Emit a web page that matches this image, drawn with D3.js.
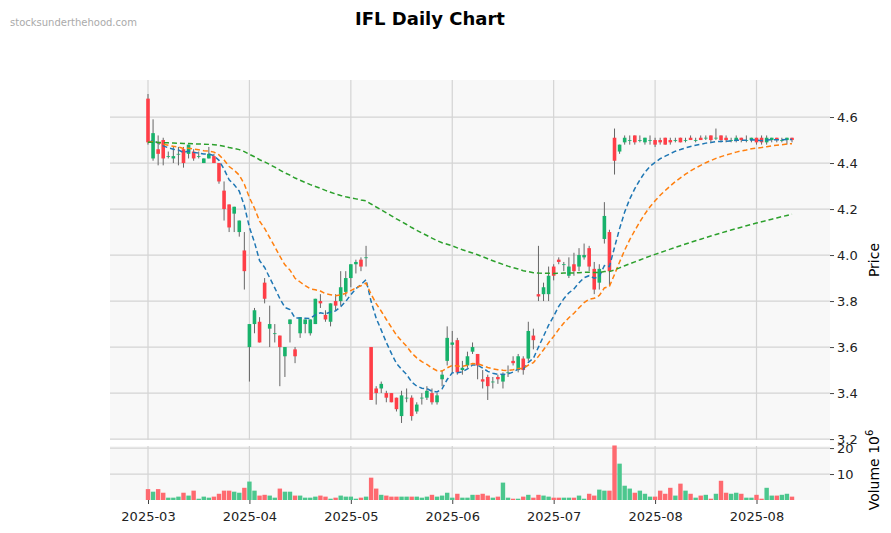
<!DOCTYPE html><html><head><meta charset="utf-8"><script src="https://cdn.jsdelivr.net/npm/d3@7"></script>
<style>body{margin:0;background:#fff;font-family:"DejaVu Sans",sans-serif}</style></head><body><svg id="c" width="891" height="533"></svg>
<script>
const opens=[4.68,4.42,4.46,4.50,4.43,4.42,4.44,4.46,4.44,4.45,4.43,4.40,4.42,4.43,4.40,4.28,4.22,4.18,4.10,4.02,3.60,3.70,3.71,3.88,3.68,3.66,3.65,3.56,3.70,3.59,3.66,3.70,3.66,3.70,3.80,3.74,3.71,3.80,3.80,3.84,3.90,3.96,3.98,3.99,3.60,3.42,3.42,3.40,3.40,3.38,3.30,3.38,3.38,3.32,3.38,3.38,3.40,3.36,3.46,3.54,3.61,3.63,3.50,3.52,3.58,3.57,3.46,3.47,3.45,3.47,3.45,3.49,3.54,3.50,3.55,3.55,3.65,3.83,3.83,3.83,3.95,3.98,3.96,3.91,3.96,3.95,3.99,4.03,3.94,3.88,4.07,4.10,4.51,4.45,4.49,4.50,4.52,4.50,4.49,4.50,4.50,4.50,4.51,4.50,4.50,4.51,4.50,4.51,4.50,4.51,4.51,4.52,4.51,4.52,4.51,4.50,4.50,4.51,4.50,4.50,4.51,4.51,4.49,4.50,4.51,4.50,4.50,4.51];
const highs=[4.70,4.59,4.52,4.51,4.45,4.47,4.47,4.47,4.48,4.46,4.45,4.42,4.47,4.44,4.40,4.32,4.22,4.21,4.15,4.10,3.70,3.77,3.73,3.90,3.78,3.70,3.65,3.60,3.72,3.60,3.73,3.72,3.72,3.81,3.83,3.76,3.79,3.83,3.93,3.93,3.96,3.98,3.99,4.04,3.60,3.43,3.45,3.41,3.40,3.38,3.41,3.42,3.39,3.36,3.40,3.43,3.42,3.40,3.50,3.69,3.67,3.64,3.54,3.58,3.62,3.57,3.50,3.48,3.47,3.48,3.49,3.52,3.56,3.57,3.56,3.71,3.68,4.04,3.88,3.95,3.96,3.99,3.97,3.99,4.01,4.03,4.05,4.04,3.97,3.96,4.23,4.11,4.55,4.48,4.52,4.52,4.52,4.52,4.51,4.52,4.51,4.51,4.51,4.51,4.51,4.51,4.51,4.52,4.51,4.52,4.52,4.52,4.55,4.52,4.52,4.51,4.52,4.51,4.52,4.51,4.51,4.52,4.52,4.51,4.51,4.51,4.51,4.51];
const lows=[4.48,4.41,4.39,4.39,4.42,4.40,4.39,4.38,4.42,4.41,4.42,4.40,4.42,4.40,4.31,4.15,4.10,4.10,4.08,3.85,3.45,3.66,3.62,3.79,3.60,3.62,3.43,3.47,3.62,3.53,3.64,3.66,3.65,3.70,3.77,3.71,3.69,3.76,3.78,3.82,3.86,3.92,3.93,3.95,3.37,3.35,3.40,3.36,3.36,3.32,3.27,3.36,3.28,3.31,3.35,3.37,3.35,3.35,3.43,3.52,3.49,3.48,3.48,3.51,3.57,3.46,3.42,3.37,3.42,3.44,3.42,3.47,3.52,3.49,3.48,3.54,3.59,3.80,3.80,3.80,3.89,3.96,3.93,3.90,3.91,3.93,3.98,3.93,3.83,3.85,4.05,3.87,4.35,4.44,4.48,4.48,4.48,4.49,4.48,4.48,4.47,4.48,4.48,4.48,4.49,4.49,4.49,4.50,4.49,4.50,4.50,4.49,4.50,4.49,4.49,4.49,4.49,4.49,4.49,4.49,4.48,4.48,4.48,4.49,4.49,4.49,4.48,4.49];
const closes=[4.49,4.53,4.44,4.42,4.43,4.43,4.44,4.40,4.48,4.42,4.43,4.42,4.44,4.40,4.32,4.20,4.12,4.21,4.15,3.93,3.70,3.76,3.62,3.81,3.70,3.66,3.60,3.60,3.72,3.56,3.73,3.72,3.72,3.81,3.79,3.72,3.79,3.78,3.86,3.90,3.96,3.97,3.95,3.99,3.37,3.40,3.44,3.38,3.36,3.33,3.39,3.38,3.30,3.35,3.38,3.41,3.36,3.39,3.48,3.64,3.62,3.49,3.51,3.56,3.60,3.52,3.45,3.43,3.45,3.46,3.48,3.49,3.53,3.56,3.50,3.67,3.63,3.82,3.86,3.91,3.91,3.97,3.96,3.95,3.93,4.00,4.00,3.95,3.85,3.94,4.17,3.93,4.41,4.48,4.51,4.50,4.49,4.50,4.51,4.50,4.48,4.49,4.48,4.49,4.50,4.49,4.50,4.50,4.50,4.50,4.51,4.50,4.51,4.50,4.50,4.50,4.51,4.50,4.50,4.51,4.49,4.49,4.51,4.51,4.50,4.50,4.51,4.50];
const volumes=[4.2,3.2,4.2,2.8,0.9,0.9,1.3,2.8,1.7,3.6,0.5,1.3,0.9,1.3,2.4,3.6,3.6,3.2,2.8,4.7,7.1,3.6,1.7,2.0,1.7,0.9,4.4,3.2,3.2,1.7,1.7,0.9,0.9,1.3,1.7,1.3,0.5,0.9,1.7,1.3,1.3,0.5,0.9,1.3,8.6,4.4,2.0,1.7,1.3,1.3,1.3,1.3,1.3,1.3,0.9,1.3,2.0,1.3,1.7,2.8,0.9,2.4,0.9,0.9,2.0,2.0,2.4,1.7,0.9,1.3,6.7,0.9,0.5,0.5,1.3,2.0,0.9,2.0,1.7,1.3,0.9,0.9,0.9,0.9,0.9,1.7,0.5,2.4,1.7,4.0,3.6,3.6,21,14,5.5,4.4,2.8,3.6,2.4,1.3,1.3,3.6,2.4,4.7,1.7,6.3,3.6,2.4,0.9,1.7,2.0,0.5,2.4,7.4,2.8,2.4,2.8,2.4,0.9,0.9,2.0,0.5,4.7,1.7,1.7,2.0,2.4,1.3];
const tickIdx=[0,20,40,60,80,100,120];
const tickLabels=["2025-03","2025-04","2025-05","2025-06","2025-07","2025-08","2025-08"];
const priceTicks=[3.2,3.4,3.6,3.8,4.0,4.2,4.4,4.6];
const volTicks=[10,20];
const maSpans=[10,20,125];
const maColors=["#1f77b4","#ff7f0e","#2ca02c"];

const svg=d3.select("#c");
const L=110,R=830,pT=80,pB=440,vT=446,vB=500;
const n=closes.length;
const x=d3.scaleLinear().domain([0,n-1]).range([148,792]);
const y=d3.scaleLinear().domain([3.196,4.761]).range([pB,pT]);
const yv=d3.scaleLinear().domain([0,20.8]).range([vB,vT]);
const up="#18b26b",dn="#ff3e47";
[[pT,pB],[vT,vB]].forEach(([a,b])=>svg.append("rect").attr("x",L).attr("y",a).attr("width",R-L).attr("height",b-a).attr("fill","#f8f8f8"));
const gc="#d4d4d4";
tickIdx.forEach(i=>{[[pT,pB],[vT,vB]].forEach(([a,b])=>svg.append("line").attr("x1",x(i)).attr("x2",x(i)).attr("y1",a).attr("y2",b).attr("stroke",gc).attr("stroke-width",1.2));});
priceTicks.forEach(t=>svg.append("line").attr("x1",L).attr("x2",R).attr("y1",y(t)).attr("y2",y(t)).attr("stroke",gc).attr("stroke-width",1.2));
volTicks.forEach(t=>svg.append("line").attr("x1",L).attr("x2",R).attr("y1",yv(t)).attr("y2",yv(t)).attr("stroke",gc).attr("stroke-width",1.2));
const ya=svg.append("g").attr("transform",`translate(${R},0)`).call(d3.axisRight(y).tickValues(priceTicks).tickFormat(d3.format(".1f")).tickSize(4));
const yva=svg.append("g").attr("transform",`translate(${R},0)`).call(d3.axisRight(yv).tickValues(volTicks).tickSize(4));
const xa=svg.append("g").attr("transform",`translate(0,${vB})`).call(d3.axisBottom(x).tickValues(tickIdx).tickFormat((d,i)=>tickLabels[i]).tickSize(4));
[ya,yva,xa].forEach(g=>{g.select(".domain").remove();g.selectAll("text").attr("font-size",13).attr("fill","#222").attr("font-family","DejaVu Sans");g.selectAll("line").attr("stroke","#444");});
xa.selectAll("text").attr("dy","1.1em");
svg.append("g").selectAll("rect").data(volumes).join("rect").attr("x",(d,i)=>x(i)-2.2).attr("width",4.4).attr("y",d=>yv(d)).attr("height",d=>vB-yv(d)).attr("fill",(d,i)=>closes[i]>=opens[i]?"#4cc78e":"#fe6a70");
const g=svg.append("g");
closes.forEach((c,i)=>{const o=opens[i];
 g.append("line").attr("x1",x(i)).attr("x2",x(i)).attr("y1",y(highs[i])).attr("y2",y(lows[i])).attr("stroke","#666").attr("stroke-width",1);
 const t=y(Math.max(o,c)),b=y(Math.min(o,c));
 g.append("rect").attr("x",x(i)-1.8).attr("width",3.6).attr("y",t).attr("height",Math.max(b-t,0.8)).attr("fill",c>=o?up:dn);});
maSpans.forEach((s,k)=>{const a=2/(s+1);let e=closes[0];const vals=closes.map(c=>(e=a*c+(1-a)*e));
 svg.append("path").datum(vals).attr("d",d3.line().x((d,i)=>x(i)).y(d=>y(d))).attr("fill","none").attr("stroke",maColors[k]).attr("stroke-width",1.5).attr("stroke-dasharray","5,3");});
svg.append("text").attr("x",430).attr("y",25).attr("text-anchor","middle").attr("font-size",18).attr("font-weight","bold").attr("font-family","DejaVu Sans").text("IFL Daily Chart");
svg.append("text").attr("x",10).attr("y",26).attr("font-size",10).attr("fill","#aaa").attr("font-family","DejaVu Sans").text("stocksunderthehood.com");
svg.append("text").attr("transform","translate(879,260) rotate(-90)").attr("text-anchor","middle").attr("font-size",14).attr("font-family","DejaVu Sans").text("Price");
const vl=svg.append("text").attr("transform","translate(879,470) rotate(-90)").attr("text-anchor","middle").attr("font-size",14).attr("font-family","DejaVu Sans");
vl.append("tspan").text("Volume  10");vl.append("tspan").attr("font-size",10).attr("dy",-6).text("6");
</script></body></html>
